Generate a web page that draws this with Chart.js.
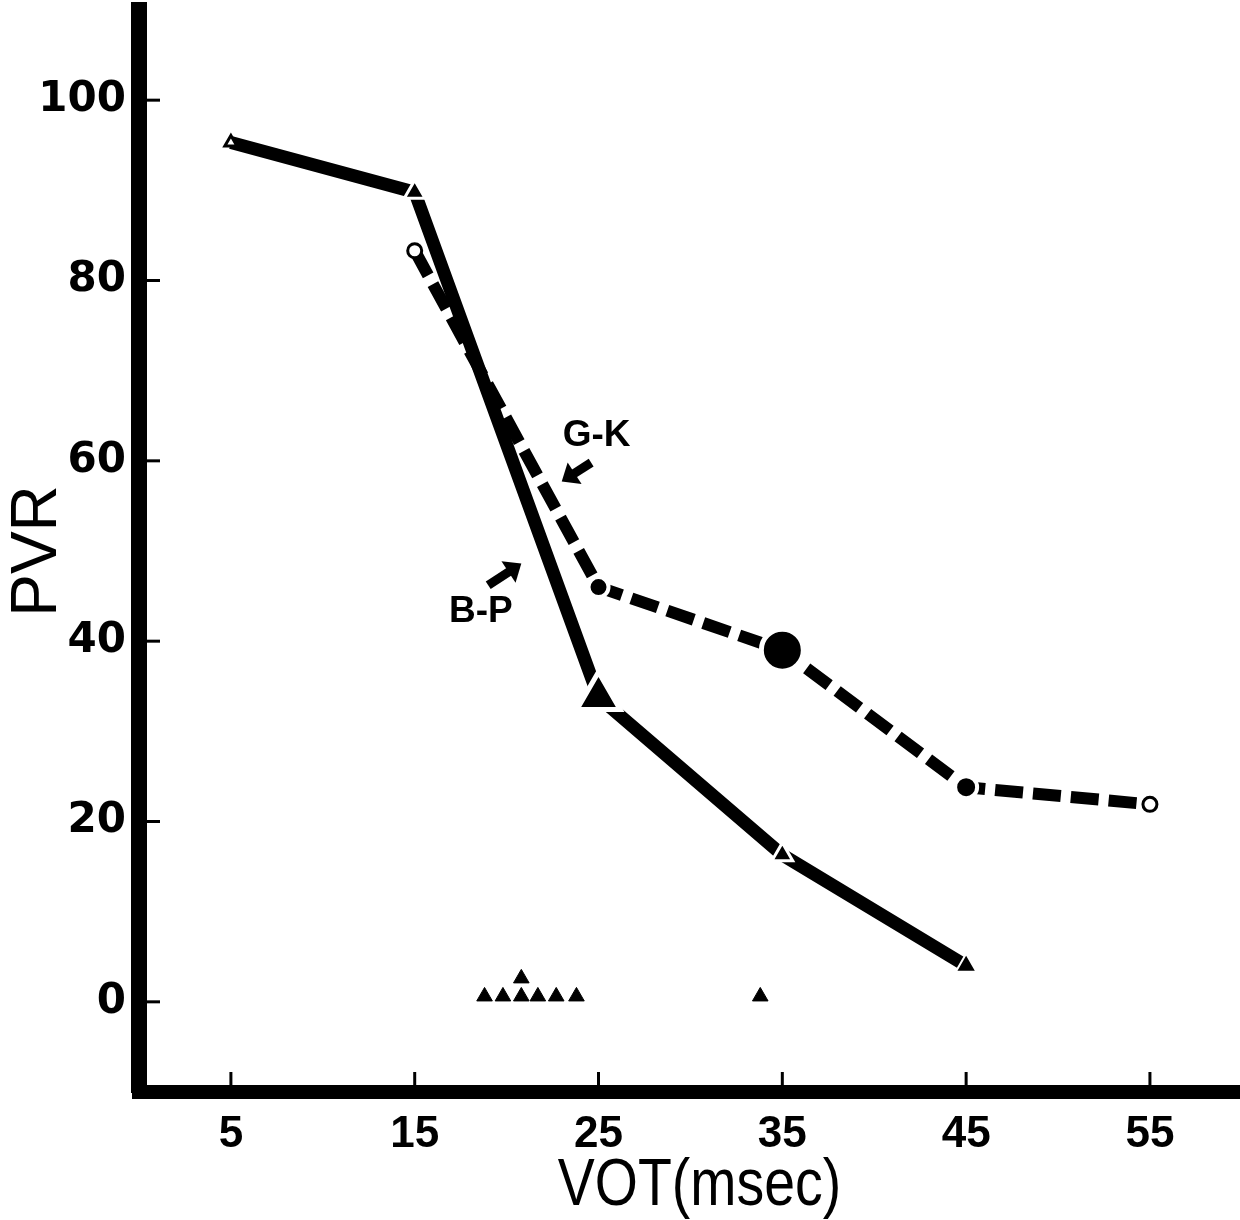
<!DOCTYPE html>
<html lang="en">
<head>
    <meta charset="UTF-8">
    <title>PVR vs VOT</title>
    <script src="https://cdn.jsdelivr.net/npm/chart.js"></script>
    <style>
        html, body { margin: 0; padding: 0; background: #fff; }
        #wrap { width: 1240px; height: 1220px; }
    </style>
</head>
<body>
    <div id="wrap"><canvas id="pvrChart" width="1240" height="1220"></canvas></div>
    <script>
        // tick labels
        var xTicks = [5, 15, 25, 35, 45, 55];
        var yTicks = [0, 20, 40, 60, 80, 100];

        // B-P series (solid line)
        var bpVot = [5, 15, 25, 35, 45];
        var bpPvr = [95.3, 89.8, 33.8, 16.3, 4.0];

        // G-K series (dashed line)
        var gkVot = [15, 25, 35, 45, 55];
        var gkPvr = [83.3, 46.0, 39.0, 23.8, 21.9];

        // loose triangles near the bottom
        var lowVot = [18.8, 19.8, 20.8, 21.7, 22.7, 23.8, 20.8, 33.8];
        var lowPvr = [0.6, 0.6, 0.6, 0.6, 0.6, 0.6, 2.6, 0.6];

        // annotation labels, in data units
        var notes = [
            { text: 'G-K', x: 24.9, y: 62.8, tail: [24.6, 59.8], tip: [23.0, 57.7] },
            { text: 'B-P', x: 18.6, y: 43.3, tail: [19.0, 46.2], tip: [20.8, 48.6] }
        ];

        function toXY(xs, ys) {
            return xs.map(function (v, i) { return { x: v, y: ys[i] }; });
        }

        var marksPlugin = {
            id: 'marks',
            afterDraw: function (chart) {
                var ctx = chart.ctx, x = chart.scales.x, y = chart.scales.y, area = chart.chartArea;
                ctx.save();
                ctx.strokeStyle = '#000';
                ctx.fillStyle = '#000';
                ctx.lineWidth = 3;
                xTicks.forEach(function (v) {
                    var px = x.getPixelForValue(v);
                    ctx.beginPath();
                    ctx.moveTo(px, area.bottom);
                    ctx.lineTo(px, area.bottom - 20);
                    ctx.stroke();
                });
                yTicks.forEach(function (v) {
                    var py = y.getPixelForValue(v);
                    ctx.beginPath();
                    ctx.moveTo(area.left, py);
                    ctx.lineTo(area.left + 21, py);
                    ctx.stroke();
                });

                // x axis title, condensed like the original lettering
                ctx.save();
                ctx.font = '66px "Liberation Sans", Arial, sans-serif';
                ctx.textAlign = 'center';
                ctx.textBaseline = 'alphabetic';
                ctx.translate((area.left + area.right) / 2 + 10, 1205);
                ctx.scale(0.84, 1);
                ctx.fillText('VOT(msec)', 0, 0);
                ctx.restore();

                // labels and little arrows
                ctx.font = 'bold 37px "Liberation Sans", Arial, sans-serif';
                ctx.textAlign = 'center';
                ctx.textBaseline = 'middle';
                notes.forEach(function (n) {
                    ctx.fillText(n.text, x.getPixelForValue(n.x), y.getPixelForValue(n.y));
                    var tx = x.getPixelForValue(n.tail[0]), ty = y.getPixelForValue(n.tail[1]);
                    var hx = x.getPixelForValue(n.tip[0]), hy = y.getPixelForValue(n.tip[1]);
                    var ang = Math.atan2(hy - ty, hx - tx);
                    ctx.lineWidth = 9;
                    ctx.beginPath();
                    ctx.moveTo(tx, ty);
                    ctx.lineTo(hx - Math.cos(ang) * 12, hy - Math.sin(ang) * 12);
                    ctx.stroke();
                    ctx.beginPath();
                    ctx.moveTo(hx, hy);
                    ctx.lineTo(hx - Math.cos(ang - 0.7) * 20, hy - Math.sin(ang - 0.7) * 20);
                    ctx.lineTo(hx - Math.cos(ang + 0.7) * 20, hy - Math.sin(ang + 0.7) * 20);
                    ctx.closePath();
                    ctx.fill();
                });
                ctx.restore();
            }
        };

        var ctx = document.getElementById('pvrChart').getContext('2d');
        var pvrChart = new Chart(ctx, {
            type: 'scatter',
            data: {
                datasets: [{
                    label: 'B-P',
                    data: toXY(bpVot, bpPvr),
                    showLine: true,
                    borderColor: '#000',
                    borderWidth: 13,
                    pointStyle: 'triangle',
                    pointRadius: [7, 12, 25, 12, 12],
                    pointBackgroundColor: ['#fff', '#000', '#000', '#000', '#000'],
                    pointBorderColor: ['#000', '#fff', '#fff', '#fff', '#fff'],
                    pointBorderWidth: [3, 3, 5, 3, 2],
                    order: 2
                }, {
                    label: 'G-K',
                    data: toXY(gkVot, gkPvr),
                    showLine: true,
                    borderColor: '#000',
                    borderWidth: 12,
                    borderDash: [28, 10],
                    pointStyle: 'circle',
                    pointRadius: [7, 10, 21, 11, 7],
                    pointBackgroundColor: ['#fff', '#000', '#000', '#000', '#fff'],
                    pointBorderColor: ['#000', '#fff', '#fff', '#fff', '#000'],
                    pointBorderWidth: [3, 4, 5, 4, 3],
                    order: 1
                }, {
                    label: 'single',
                    data: toXY(lowVot, lowPvr),
                    showLine: false,
                    pointStyle: 'triangle',
                    pointRadius: 9,
                    pointBackgroundColor: '#000',
                    pointBorderColor: '#000',
                    pointBorderWidth: 1
                }]
            },
            options: {
                responsive: false,
                animation: false,
                layout: { autoPadding: false, padding: { top: 10, right: 0, left: 0, bottom: 0 } },
                plugins: { legend: { display: false }, tooltip: { enabled: false } },
                scales: {
                    x: {
                        type: 'linear',
                        min: 0,
                        max: 59.9,
                        afterFit: function (s) {
                            s.height = 128;
                            s.paddingLeft = 0; s.paddingRight = 0;
                        },
                        afterBuildTicks: function (s) { s.ticks = xTicks.map(function (v) { return { value: v }; }); },
                        grid: { display: false, drawTicks: false },
                        border: { display: true, color: '#000', width: 14 },
                        ticks: {
                            color: '#000',
                            padding: 16,
                            maxRotation: 0,
                            autoSkip: false,
                            font: { family: '"Liberation Sans", Arial', size: 44, weight: 'bold' }
                        },
                        title: { display: false }
                    },
                    y: {
                        type: 'linear',
                        min: -10,
                        max: 110,
                        afterFit: function (s) {
                            s.width = 139;
                            s.paddingTop = 0; s.paddingBottom = 0;
                        },
                        afterBuildTicks: function (s) { s.ticks = yTicks.map(function (v) { return { value: v }; }); },
                        grid: { display: false, drawTicks: false },
                        border: { display: true, color: '#000', width: 16 },
                        ticks: {
                            color: '#000',
                            padding: 13,
                            font: { family: '"DejaVu Sans", Verdana, sans-serif', size: 42, weight: 'bold' }
                        },
                        title: {
                            display: true,
                            text: 'PVR',
                            color: '#000',
                            padding: { top: 6, bottom: 0 },
                            font: { family: '"Liberation Sans", Arial, sans-serif', size: 64, lineHeight: 1 }
                        }
                    }
                }
            },
            plugins: [marksPlugin]
        });
    </script>
</body>
</html>
